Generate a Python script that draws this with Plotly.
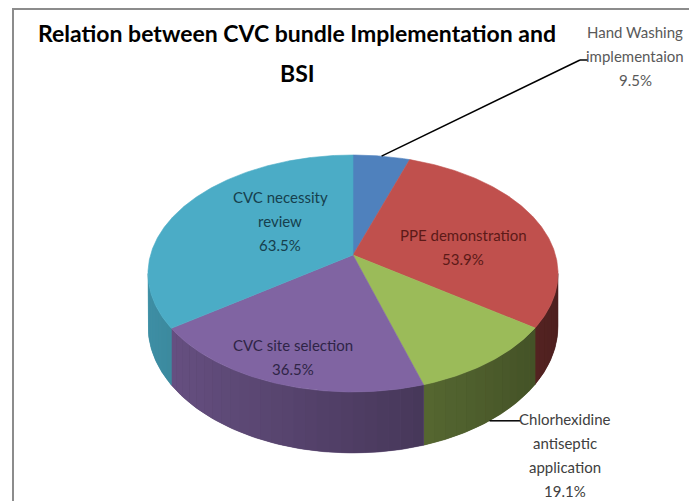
import numpy as np
import plotly.graph_objects as go

# ---------------- data ----------------
categories = ["Hand Washing implementaion", "PPE demonstration",
              "Chlorhexidine antiseptic application", "CVC site selection",
              "CVC necessity review"]
values = [9.5, 53.9, 19.1, 36.5, 63.5]
label_lines = [["Hand Washing", "implementaion"], ["PPE demonstration"],
               ["Chlorhexidine", "antiseptic", "application"], ["CVC site selection"],
               ["CVC necessity", "review"]]
title_lines = ["Relation between CVC bundle Implementation and", "BSI"]

# ---------------- styles ----------------
colors = ["#4f81bd", "#c0504d", "#9bbb59", "#8064a2", "#4bacc6"]
text_colors = ["#595959", "#5c1a18", "#404040", "#2f2447", "#163f4d"]
FONT = "Lato, Roboto, sans-serif"

WIN_W, WIN_H = 697, 501
OFF = 8  # page body margin
# pie geometry (pixel units, y down)
CX, CY = 353, 255
A, B, K = 202.5, 115.6, 0.156
DEPTH = 51.5


def proj(theta_deg, drop=0.0, r=1.0):
    t = np.radians(theta_deg)
    u, v = r * np.sin(t), r * np.cos(t)
    den = 1 + K * v
    return CX + A * u / den, CY - B * v / den + drop / den


def shade(hex_color, f):
    h = hex_color.lstrip("#")
    rgb = [int(h[i:i + 2], 16) for i in (0, 2, 4)]
    return "rgb({},{},{})".format(*[max(0, min(255, int(c * f))) for c in rgb])


def side_factor(theta_deg):
    return 0.62 - 0.22 * np.sin(np.radians(theta_deg))


total = float(sum(values))
cum = np.concatenate([[0], np.cumsum(values)]) / total * 360.0
mids = (cum[:-1] + cum[1:]) / 2

fig = go.Figure()

# ---- side walls (front half only) ----
ts = np.degrees(np.arccos(-K))      # silhouette angle (right)
te = 360 - ts                       # silhouette angle (left)
STEP = 3.0
for i, col in enumerate(colors):
    a0, a1 = max(cum[i], ts), min(cum[i + 1], te)
    if a1 <= a0:
        continue
    # base wall
    tt = np.linspace(a0, a1, 60)
    xt, yt = proj(tt)
    xb, yb = proj(tt[::-1], DEPTH)
    cb = shade(col, side_factor((a0 + a1) / 2))
    fig.add_trace(go.Scatter(
        x=np.concatenate([xt, xb, xt[:1]]), y=np.concatenate([yt, yb, yt[:1]]),
        mode="lines", fill="toself", fillcolor=cb,
        line=dict(color=cb, width=0.5), hoverinfo="skip", showlegend=False))
    # gradient strips
    n = int(np.ceil((a1 - a0) / STEP))
    edges = np.linspace(a0, a1, n + 1)
    for s0, s1 in zip(edges[:-1], edges[1:]):
        tt = np.linspace(s0, s1, 4)
        xt, yt = proj(tt)
        xb, yb = proj(tt[::-1], DEPTH)
        c = shade(col, side_factor((s0 + s1) / 2))
        fig.add_trace(go.Scatter(
            x=np.concatenate([xt, xb, xt[:1]]), y=np.concatenate([yt, yb, yt[:1]]),
            mode="lines", fill="toself", fillcolor=c,
            line=dict(width=0), hoverinfo="skip", showlegend=False))

# ---- top faces ----
for i, (cat, val, col) in enumerate(zip(categories, values, colors)):
    tt = np.linspace(cum[i], cum[i + 1], max(4, int((cum[i + 1] - cum[i]) * 2)))
    xa, ya = proj(tt)
    fig.add_trace(go.Scatter(
        x=np.concatenate([[CX], xa, [CX]]), y=np.concatenate([[CY], ya, [CY]]),
        mode="lines", fill="toself", fillcolor=col, line=dict(color=col, width=0.6),
        name=cat, hovertemplate=f"{cat}: {val}%<extra></extra>", showlegend=False))

# ---- labels (one annotation per line for Excel-like spacing) ----
LINE_GAP = 24
label_top = {0: (635, 32), 1: (463, 235), 2: (565, 419), 3: (293, 345), 4: (280, 197)}
annotations = []
for i, (x, y0) in label_top.items():
    lines = label_lines[i] + [f"{values[i]}%"]
    for j, txt in enumerate(lines):
        annotations.append(dict(x=x, y=y0 + j * LINE_GAP, xref="x", yref="y",
                                showarrow=False, text=txt,
                                font=dict(family=FONT, size=15, color=text_colors[i])))

# title
for j, txt in enumerate(title_lines):
    annotations.append(dict(x=297, y=33 + j * 40, xref="x", yref="y", showarrow=False,
                            text=f"<b>{txt}</b>",
                            font=dict(family=FONT, size=23, color="#000000")))

shapes = []
# leader lines
hx, hy = proj(mids[0])
shapes.append(dict(type="line", xref="x", yref="y", x0=float(hx), y0=float(hy),
                   x1=580, y1=60, line=dict(color="#000000", width=1.5)))
shapes.append(dict(type="line", xref="x", yref="y", x0=580, y0=60, x1=588, y1=60,
                   line=dict(color="#000000", width=1.5)))
gx, gy = proj(mids[2], DEPTH)
shapes.append(dict(type="line", xref="x", yref="y", x0=float(gx), y0=float(gy),
                   x1=520, y1=float(gy), line=dict(color="#000000", width=1.5)))
# chart border
shapes.append(dict(type="rect", xref="x", yref="y", x0=13, y0=9, x1=691, y1=520,
                   line=dict(color="#8c8c8c", width=2), layer="below"))

fig.update_layout(
    width=WIN_W - OFF, height=WIN_H - OFF, autosize=False,
    margin=dict(l=0, r=0, t=0, b=0),
    paper_bgcolor="white", plot_bgcolor="white",
    xaxis=dict(range=[OFF, WIN_W], visible=False, fixedrange=True),
    yaxis=dict(range=[WIN_H, OFF], visible=False, fixedrange=True),
    annotations=annotations, shapes=shapes, showlegend=False,
)

fig.write_html("out.html")
